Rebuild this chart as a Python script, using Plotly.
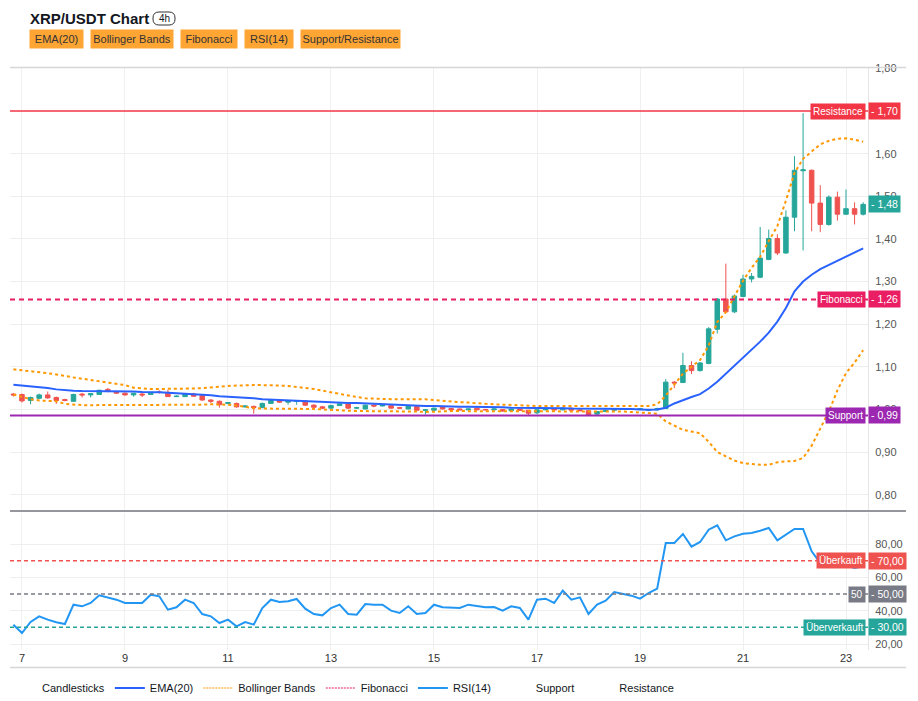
import pandas as pd
import plotly.graph_objects as go
from plotly.subplots import make_subplots

# 4h candles, first one at 6th 20:00
times = pd.date_range("2024-11-06 20:00", periods=100, freq="4h")

open_ = [1.036, 1.035, 1.021, 1.026, 1.034, 1.028, 1.023, 1.019, 1.036, 1.034,
         1.035, 1.047, 1.042, 1.038, 1.034, 1.036, 1.035, 1.041, 1.040, 1.030,
         1.030, 1.036, 1.033, 1.022, 1.019, 1.014, 1.014, 1.006, 1.007, 1.004,
         1.014, 1.022, 1.017, 1.019, 1.020, 1.010, 1.006, 1.003, 1.009, 1.013,
         1.003, 1.001, 1.010, 1.008, 1.009, 1.004, 1.001, 1.007, 0.998, 0.998,
         1.006, 1.002, 1.001, 0.999, 1.003, 1.000, 0.999, 1.000, 0.997, 1.001,
         0.998, 0.992, 0.999, 1.001, 0.999, 1.003, 0.999, 0.997, 0.989, 0.995,
         0.998, 1.000, 1.001, 1.000, 0.998, 0.999, 1.002, 1.064, 1.063, 1.103,
         1.091, 1.108, 1.188, 1.259, 1.229, 1.265, 1.306, 1.310, 1.352, 1.401,
         1.367, 1.451, 1.560, 1.561, 1.484, 1.434, 1.498, 1.458, 1.471, 1.458]
high = [1.038, 1.037, 1.030, 1.037, 1.042, 1.030, 1.025, 1.037, 1.039, 1.038,
        1.046, 1.050, 1.044, 1.040, 1.039, 1.040, 1.041, 1.045, 1.046, 1.033,
        1.038, 1.039, 1.035, 1.024, 1.021, 1.017, 1.016, 1.009, 1.009, 1.016,
        1.024, 1.024, 1.021, 1.021, 1.021, 1.012, 1.008, 1.011, 1.015, 1.015,
        1.006, 1.011, 1.013, 1.012, 1.010, 1.006, 1.008, 1.008, 1.000, 1.004,
        1.007, 1.003, 1.002, 1.002, 1.004, 1.001, 1.002, 1.001, 1.002, 1.002,
        0.999, 1.000, 1.002, 1.002, 1.004, 1.004, 1.000, 0.998, 0.996, 0.999,
        1.002, 1.002, 1.002, 1.003, 1.001, 1.004, 1.071, 1.067, 1.133, 1.113,
        1.111, 1.193, 1.261, 1.342, 1.270, 1.316, 1.320, 1.428, 1.422, 1.411,
        1.467, 1.594, 1.695, 1.563, 1.526, 1.502, 1.511, 1.516, 1.486, 1.486]
low = [1.030, 1.016, 1.012, 1.024, 1.025, 1.013, 1.019, 1.018, 1.028, 1.028,
       1.034, 1.040, 1.036, 1.032, 1.030, 1.029, 1.034, 1.037, 1.029, 1.029,
       1.029, 1.029, 1.020, 1.015, 1.004, 1.012, 1.004, 1.004, 0.990, 1.003,
       1.013, 1.015, 1.011, 1.011, 1.008, 1.004, 1.001, 1.002, 1.008, 1.001,
       1.001, 1.000, 1.005, 1.007, 1.002, 1.001, 1.000, 0.996, 0.988, 0.997,
       1.000, 0.998, 0.998, 0.998, 0.998, 0.998, 0.998, 0.995, 0.996, 0.997,
       0.986, 0.989, 0.998, 0.998, 0.998, 0.997, 0.996, 0.985, 0.986, 0.994,
       0.997, 0.999, 0.999, 0.999, 0.996, 0.998, 1.001, 1.050, 1.062, 1.083,
       1.089, 1.106, 1.178, 1.226, 1.226, 1.263, 1.298, 1.308, 1.350, 1.362,
       1.365, 1.418, 1.373, 1.418, 1.416, 1.431, 1.443, 1.456, 1.434, 1.455]
close = [1.034, 1.020, 1.028, 1.034, 1.027, 1.021, 1.021, 1.035, 1.034, 1.037,
         1.045, 1.043, 1.038, 1.034, 1.038, 1.034, 1.040, 1.040, 1.030, 1.031,
         1.036, 1.031, 1.022, 1.019, 1.011, 1.016, 1.006, 1.008, 1.004, 1.014,
         1.021, 1.017, 1.020, 1.020, 1.010, 1.005, 1.003, 1.009, 1.013, 1.003,
         1.004, 1.010, 1.008, 1.011, 1.003, 1.003, 1.007, 0.998, 0.999, 1.003,
         1.001, 0.999, 0.999, 1.001, 0.999, 0.999, 1.001, 0.996, 1.001, 0.998,
         0.991, 0.999, 1.001, 0.999, 1.003, 0.998, 0.997, 0.988, 0.995, 0.998,
         1.001, 1.001, 1.000, 1.002, 0.999, 1.002, 1.064, 1.062, 1.103, 1.091,
         1.109, 1.189, 1.259, 1.229, 1.266, 1.306, 1.312, 1.355, 1.401, 1.367,
         1.451, 1.561, 1.562, 1.484, 1.434, 1.498, 1.458, 1.471, 1.458, 1.481]

ema20 = [1.058, 1.056, 1.055, 1.053, 1.050, 1.047, 1.045, 1.044, 1.043, 1.043,
         1.043, 1.043, 1.042, 1.042, 1.042, 1.041, 1.041, 1.040, 1.039, 1.038,
         1.037, 1.035, 1.034, 1.033, 1.031, 1.030, 1.029, 1.027, 1.026, 1.024,
         1.023, 1.022, 1.021, 1.020, 1.020, 1.019, 1.018, 1.017, 1.016, 1.015,
         1.015, 1.014, 1.013, 1.012, 1.011, 1.010, 1.010, 1.009, 1.008, 1.008,
         1.007, 1.007, 1.006, 1.006, 1.006, 1.005, 1.005, 1.005, 1.004, 1.004,
         1.004, 1.003, 1.003, 1.003, 1.003, 1.002, 1.002, 1.002, 1.002, 1.001,
         1.001, 1.001, 1.001, 1.000, 0.999, 1.000, 1.004, 1.014, 1.022, 1.029,
         1.036, 1.049, 1.065, 1.084, 1.101, 1.122, 1.139, 1.159, 1.180, 1.206,
         1.238, 1.277, 1.300, 1.316, 1.329, 1.339, 1.349, 1.358, 1.368, 1.378]

bb_upper = [1.094, 1.092, 1.090, 1.088, 1.085, 1.082, 1.078, 1.075, 1.072, 1.069,
            1.066, 1.064, 1.061, 1.057, 1.051, 1.049, 1.048, 1.048, 1.048, 1.048,
            1.048, 1.049, 1.050, 1.052, 1.054, 1.055, 1.056, 1.057, 1.057, 1.057,
            1.057, 1.056, 1.055, 1.053, 1.051, 1.048, 1.044, 1.040, 1.036, 1.032,
            1.029, 1.026, 1.025, 1.024, 1.024, 1.024, 1.024, 1.024, 1.024, 1.022,
            1.020, 1.018, 1.017, 1.016, 1.014, 1.013, 1.012, 1.011, 1.010, 1.009,
            1.009, 1.008, 1.008, 1.008, 1.008, 1.008, 1.008, 1.008, 1.008, 1.008,
            1.008, 1.008, 1.008, 1.008, 1.008, 1.012, 1.032, 1.058, 1.084, 1.100,
            1.116, 1.150, 1.205, 1.228, 1.264, 1.302, 1.332, 1.358, 1.395, 1.430,
            1.490, 1.555, 1.588, 1.606, 1.622, 1.630, 1.635, 1.636, 1.633, 1.628]
bb_lower = [1.035, 1.030, 1.024, 1.021, 1.020, 1.019, 1.013, 1.011, 1.010, 1.010,
            1.010, 1.010, 1.010, 1.010, 1.010, 1.010, 1.010, 1.010, 1.010, 1.010,
            1.010, 1.010, 1.011, 1.012, 1.012, 1.011, 1.009, 1.006, 1.003, 1.002,
            1.002, 1.002, 1.002, 1.002, 1.002, 1.001, 1.000, 0.999, 0.998, 0.996,
            0.996, 0.996, 0.996, 0.996, 0.996, 0.996, 0.995, 0.995, 0.994, 0.995,
            0.995, 0.996, 0.996, 0.996, 0.996, 0.996, 0.996, 0.996, 0.996, 0.996,
            0.996, 0.996, 0.996, 0.996, 0.995, 0.995, 0.995, 0.995, 0.995, 0.995,
            0.995, 0.995, 0.994, 0.993, 0.991, 0.990, 0.972, 0.962, 0.952, 0.948,
            0.944, 0.924, 0.900, 0.890, 0.880, 0.874, 0.872, 0.870, 0.870, 0.876,
            0.878, 0.879, 0.886, 0.915, 0.955, 0.995, 1.045, 1.085, 1.110, 1.139]

rsi14 = [31.6, 26.6, 33.2, 36.6, 34.6, 33.0, 32.0, 43.6, 42.6, 44.6,
         49.2, 48.0, 46.6, 44.6, 44.6, 44.6, 49.6, 48.6, 40.6, 42.0,
         46.6, 44.6, 38.0, 36.6, 32.6, 34.6, 30.6, 33.2, 31.6, 41.6,
         46.6, 45.2, 45.6, 47.0, 41.2, 38.0, 37.2, 41.6, 43.6, 38.0,
         37.6, 44.0, 43.6, 43.6, 40.0, 38.6, 42.6, 38.0, 38.6, 43.6,
         42.0, 41.6, 41.6, 43.6, 42.6, 42.0, 42.2, 40.0, 42.6, 41.6,
         34.6, 46.6, 47.2, 44.6, 52.0, 46.6, 48.0, 38.0, 43.6, 46.0,
         51.2, 50.0, 49.0, 47.2, 50.6, 53.2, 80.6, 80.6, 86.0, 78.4,
         81.2, 88.6, 91.2, 82.2, 84.6, 86.2, 86.6, 88.0, 89.6, 82.2,
         85.6, 89.0, 89.0, 75.6, 68.6, 68.0, 67.2, 67.2, 65.6, 66.6]

resistance = 1.70
fibonacci = 1.258
support = 0.986
rsi_levels = [70, 50, 30]
rsi_level_names = ["Überkauft", "50", "Überverkauft"]
price_ticks = [0.8, 0.9, 1.0, 1.1, 1.2, 1.3, 1.4, 1.5, 1.6, 1.8]
rsi_ticks = [20, 40, 60, 80]
buttons = ["EMA(20)", "Bollinger Bands", "Fibonacci", "RSI(14)", "Support/Resistance"]

UP = "#26a69a"
DOWN = "#ef5350"
FONT = "Liberation Sans, Arial, sans-serif"

# screen positions of the plot area (x 10..868, y 68..650); the page body adds 8px
L, R, T, B = 10, 868, 68, 650
SHIFT = 8
W_FIG, H_FIG = 918, 701


def px(x):
    return (x - L) / (R - L)


def py(y):
    return (B - y) / (B - T)


def fmt(v):
    return f"{v:.2f}".replace(".", ",")


fig = make_subplots(rows=2, cols=1, shared_xaxes=True, vertical_spacing=0)

fig.add_trace(go.Candlestick(
    x=times, open=open_, high=high, low=low, close=close, name="Candlesticks",
    increasing=dict(line=dict(color=UP, width=1), fillcolor=UP),
    decreasing=dict(line=dict(color=DOWN, width=1), fillcolor=DOWN),
    showlegend=False), row=1, col=1)

# legend entry without an icon, like the original
fig.add_trace(go.Scatter(x=[None], y=[None], mode="lines", name="Candlesticks",
                         line=dict(color="rgba(0,0,0,0)")), row=1, col=1)

fig.add_trace(go.Scatter(x=times, y=ema20, mode="lines", name="EMA(20)",
                         line=dict(color="#2962ff", width=2)), row=1, col=1)

fig.add_trace(go.Scatter(x=times, y=bb_upper, mode="lines", name="Bollinger Bands",
                         legendgroup="bb", showlegend=False,
                         line=dict(color="#ff9800", width=2, dash="3px,3px")), row=1, col=1)
fig.add_trace(go.Scatter(x=times, y=bb_lower, mode="lines", name="Bollinger Bands",
                         legendgroup="bb", showlegend=False,
                         line=dict(color="#ff9800", width=2, dash="3px,3px")), row=1, col=1)
fig.add_trace(go.Scatter(x=[None], y=[None], mode="lines", name="Bollinger Bands",
                         legendgroup="bb",
                         line=dict(color="#ff9800", width=1, dash="2px,1px")), row=1, col=1)
fig.add_trace(go.Scatter(x=[None], y=[None], mode="lines", name="Fibonacci",
                         line=dict(color="#e91e63", width=1, dash="2px,1px")), row=1, col=1)

fig.add_trace(go.Scatter(x=times, y=rsi14, mode="lines", name="RSI(14)",
                         line=dict(color="#2196f3", width=2)), row=2, col=1)

for nm in ["Support", "Resistance"]:
    fig.add_trace(go.Scatter(x=[None], y=[None], mode="lines", name=nm,
                             line=dict(color="rgba(0,0,0,0)")), row=1, col=1)

# horizontal levels
fig.add_shape(type="line", xref="paper", yref="y", x0=0, x1=1, y0=resistance, y1=resistance,
              line=dict(color="#f23645", width=1.5))
fig.add_shape(type="line", xref="paper", yref="y", x0=0, x1=1, y0=fibonacci, y1=fibonacci,
              line=dict(color="#e91e63", width=2, dash="5px,4px"))
fig.add_shape(type="line", xref="paper", yref="y", x0=0, x1=1, y0=support, y1=support,
              line=dict(color="#9c27b0", width=2))
level_colors = [DOWN, "#787b86", UP]
for lv, c in zip(rsi_levels, level_colors):
    fig.add_shape(type="line", xref="paper", yref="y2", x0=0, x1=1, y0=lv, y1=lv,
                  line=dict(color=c, width=1.5, dash="4px,3px"))

# frame lines
for yy, col in [(67.5, "#d6d6d6"), (511, "#2a2e39"), (667.5, "#d6d6d6")]:
    fig.add_shape(type="line", xref="paper", yref="paper", x0=px(10), x1=px(906), y0=py(yy), y1=py(yy),
                  line=dict(color=col, width=1.5 if col == "#d6d6d6" else 1))


def tag(y, yref, name, value, color):
    if name:
        fig.add_annotation(xref="paper", yref=yref, x=px(866), y=y, xanchor="right", yanchor="middle",
                           text=name, showarrow=False, bgcolor=color, borderpad=2,
                           font=dict(family=FONT, size=10, color="white"))
    fig.add_annotation(xref="paper", yref=yref, x=px(868), y=y, xanchor="left", yanchor="middle",
                       text="- " + value, showarrow=False, bgcolor=color, borderpad=2,
                       font=dict(family=FONT, size=10.5, color="white"))


tag(resistance, "y", "Resistance", fmt(resistance), "#f23645")
tag(fibonacci, "y", "Fibonacci", fmt(fibonacci), "#e91e63")
tag(support, "y", "Support", fmt(support), "#9c27b0")
tag(close[-1], "y", None, fmt(close[-1]), UP)
for lv, nm, c in zip(rsi_levels, rsi_level_names, level_colors):
    tag(lv, "y2", nm, fmt(lv), c)

# header
fig.add_annotation(xref="paper", yref="paper", x=px(28), y=py(18), xanchor="left", yanchor="middle",
                   text="<b>XRP/USDT Chart</b>", showarrow=False,
                   font=dict(family=FONT, size=15, color="#131722"))
# rounded "4h" badge
bx0, bx1, by0, by1, rr = 153, 175, 12, 25, 6
fig.add_shape(type="path", xref="paper", yref="paper",
              path=(f"M {px(bx0 + rr)},{py(by0)} L {px(bx1 - rr)},{py(by0)} "
                    f"Q {px(bx1)},{py(by0)} {px(bx1)},{py(by0 + rr)} L {px(bx1)},{py(by1 - rr)} "
                    f"Q {px(bx1)},{py(by1)} {px(bx1 - rr)},{py(by1)} L {px(bx0 + rr)},{py(by1)} "
                    f"Q {px(bx0)},{py(by1)} {px(bx0)},{py(by1 - rr)} L {px(bx0)},{py(by0 + rr)} "
                    f"Q {px(bx0)},{py(by0)} {px(bx0 + rr)},{py(by0)} Z"),
              line=dict(color="#333333", width=1))
fig.add_annotation(xref="paper", yref="paper", x=px((bx0 + bx1) / 2), y=py((by0 + by1) / 2),
                   xanchor="center", yanchor="middle", text="4h", showarrow=False,
                   font=dict(family=FONT, size=10, color="#131722"))
btn_x = [29, 90, 180, 244, 300]
btn_w = [53, 82, 56, 48, 99]
for label, bx, bw in zip(buttons, btn_x, btn_w):
    fig.add_annotation(xref="paper", yref="paper", x=px(bx), y=py(29), xanchor="left", yanchor="top",
                       text=label, showarrow=False, width=bw, height=18, borderpad=0,
                       bgcolor="#ffa534", font=dict(family=FONT, size=11, color="#333333"))

xgrid = dict(type="date", range=["2024-11-06 18:25", "2024-11-23 10:15"],
             dtick=2 * 86400000, tick0="2024-11-07", showgrid=True, gridcolor="#f0f0f0",
             zeroline=False, showline=False)
fig.update_xaxes(**xgrid)
fig.update_xaxes(showticklabels=False, rangeslider_visible=False, row=1, col=1)
fig.update_xaxes(showticklabels=True, tickformat="%-d", ticks="",
                 tickfont=dict(family=FONT, size=11, color="#333333"), row=2, col=1)

yax = dict(side="right", showgrid=True, gridcolor="#eeeeee", zeroline=False, tickformat=".2f",
           showline=True, linecolor="#e6e6e6", ticks="outside", ticklen=4, tickcolor="rgba(0,0,0,0)",
           tickfont=dict(family=FONT, size=11, color="#555555"))
fig.update_yaxes(**yax)
fig.update_yaxes(range=[0.764, 1.801], tickvals=price_ticks, row=1, col=1)
fig.update_yaxes(range=[16.4, 98.6], tickvals=rsi_ticks, row=2, col=1)

fig.update_layout(
    width=W_FIG, height=H_FIG,
    margin=dict(l=L - SHIFT, r=W_FIG - R + SHIFT, t=T - SHIFT, b=H_FIG - B + SHIFT, autoexpand=False),
    paper_bgcolor="white", plot_bgcolor="white",
    separators=", ",
    boxgap=0.25,
    font=dict(family=FONT, size=12, color="#131722"),
    yaxis=dict(domain=[py(510), 1]),
    yaxis2=dict(domain=[0, py(513)]),
    showlegend=True,
    legend=dict(orientation="h", x=px(2), xanchor="left", y=py(688), yanchor="middle",
                font=dict(family=FONT, size=11, color="#131722"), bgcolor="rgba(0,0,0,0)"),
)

fig.write_html("out.html")
